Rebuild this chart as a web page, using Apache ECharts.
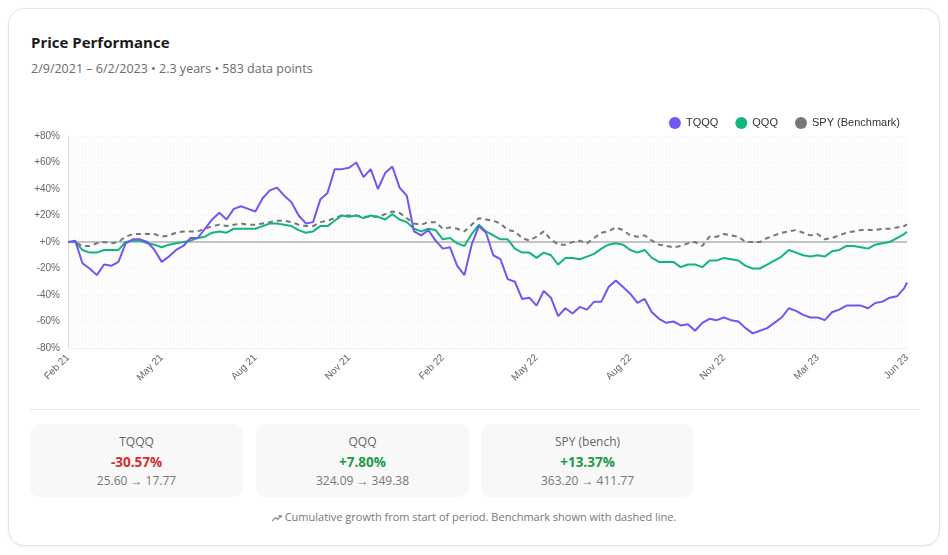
<!DOCTYPE html>
<html>
<head>
<meta charset="utf-8">
<title>Price Performance</title>
<script src="https://cdn.jsdelivr.net/npm/echarts@6/dist/echarts.min.js"></script>
<style>
  html, body { margin: 0; padding: 0; background: #fff; }
  body { width: 948px; height: 555px; position: relative; overflow: hidden; font-family: "Open Sans", "Noto Sans", sans-serif; }
  .card { position: absolute; left: 8px; top: 8px; width: 930px; height: 536px; border: 1px solid #e3e3e3; border-radius: 16px; box-shadow: 0 1px 3px rgba(0, 0, 0, 0.06); background: #fff; }
  .title { position: absolute; left: 31px; top: 32px; font-size: 15px; font-weight: 700; color: #1b1b1b; }
  .sub { position: absolute; left: 31px; top: 60px; font-size: 12.5px; color: #6b6b6b; }
  #chart { position: absolute; left: 22px; top: 100px; width: 903px; height: 300px; }
  .divider { position: absolute; left: 30px; top: 409px; width: 889px; height: 1px; background: #e9e9e9; }
  .stat { position: absolute; top: 424px; width: 213px; height: 73px; background: #f8f8f8; border-radius: 10px; text-align: center; }
  .stat .name { position: absolute; left: 0; right: 0; top: 9px; font-size: 12px; color: #666; }
  .stat .pct { position: absolute; left: 0; right: 0; top: 29px; font-size: 13.5px; font-weight: 700; }
  .stat .px { position: absolute; left: 0; right: 0; top: 48px; font-size: 12px; color: #777; }
  .neg { color: #d12f2f; }
  .pos { color: #1e9a4c; }
  .note { position: absolute; left: 0; width: 948px; top: 509px; text-align: center; font-size: 11px; color: #777; }
  .note svg { vertical-align: -1px; margin-right: 3px; }
</style>
</head>
<body>
<div class="card"></div>
<div class="title">Price Performance</div>
<div class="sub">2/9/2021 – 6/2/2023 • 2.3 years • 583 data points</div>
<div id="chart"></div>
<div class="divider"></div>
<div class="stat" style="left:30px"><div class="name">TQQQ</div><div class="pct neg">-30.57%</div><div class="px">25.60 → 17.77</div></div>
<div class="stat" style="left:256px"><div class="name">QQQ</div><div class="pct pos">+7.80%</div><div class="px">324.09 → 349.38</div></div>
<div class="stat" style="left:481px"><div class="name">SPY (bench)</div><div class="pct pos">+13.37%</div><div class="px">363.20 → 411.77</div></div>
<div class="note"><svg width="10" height="8" viewBox="0 0 10 8"><polyline points="0,7 3.5,3.5 5.5,5.5 9,1.5" fill="none" stroke="#888" stroke-width="1.2"/><polyline points="6.5,1.5 9,1.5 9,4" fill="none" stroke="#888" stroke-width="1.2"/></svg>Cumulative growth from start of period. Benchmark shown with dashed line.</div>

<script>
// trading-day index of each x-axis label
const tickDays = [0, 65, 130, 195, 260, 325, 390, 455, 520, 582];
const tickLabels = ['Feb 21', 'May 21', 'Aug 21', 'Nov 21', 'Feb 22', 'May 22', 'Aug 22', 'Nov 22', 'Mar 23', 'Jun 23'];
const dayCount = 583;

const sampleDays = [
  0, 5, 10, 15, 20, 25, 30, 35, 40, 45, 50, 55, 60, 65, 70, 75, 80, 85, 90, 95,
  100, 105, 110, 115, 120, 125, 130, 135, 140, 145, 150, 155, 160, 165, 170, 175, 180, 185, 190, 195,
  200, 205, 210, 215, 220, 225, 230, 235, 240, 245, 250, 255, 260, 265, 270, 275, 280, 285, 290, 295,
  300, 305, 310, 315, 320, 325, 330, 335, 340, 345, 350, 355, 360, 365, 370, 375, 380, 385, 390, 395,
  400, 405, 410, 415, 420, 425, 430, 435, 440, 445, 450, 455, 460, 465, 470, 475, 480, 485, 490, 495,
  500, 505, 510, 515, 520, 525, 530, 535, 540, 545, 550, 555, 560, 565, 570, 575, 580, 582
];

// cumulative growth, %
const tqqq = [
  0, 1, -16, -20, -25, -17, -18, -15, -1, 2,
  2, 0, -6, -15, -11, -6, -3, 3, 3, 10,
  17, 22, 17, 25, 27, 25, 23, 33, 39, 41,
  35, 30, 20, 14, 15, 32, 37, 55, 55, 56,
  60, 49, 55, 40, 52, 57, 41, 35, 8, 5,
  9, 1, -5, -4, -18, -25, -2, 12, 7, -10,
  -13, -28, -30, -43, -42, -48, -37, -42, -56, -50,
  -54, -49, -51, -45, -45, -34, -29, -34, -39, -46,
  -43, -53, -58, -61, -60, -63, -62, -67, -61, -58,
  -59, -57, -59, -60, -65, -69, -67, -65, -61, -57,
  -50, -52, -55, -57, -57, -59, -53, -51, -48, -48,
  -48, -50, -46, -45, -42, -41, -35, -30.57
];
const qqq = [
  0, 0, -6, -8, -8, -6, -6, -6, 0, 1,
  1, -1, -2, -4, -2, -1, 0, 1, 3, 4,
  7, 8, 7, 10, 10, 10, 10, 12, 14, 14,
  13, 12, 9, 7, 8, 12, 12, 16, 20, 19,
  20, 18, 20, 19, 17, 21, 17, 15, 10, 8,
  10, 9, 2, 3, -1, -3, 6, 13, 8, 5,
  2, 2, -5, -8, -8, -12, -8, -10, -17, -12,
  -12, -13, -11, -9, -5, -2, -1, -2, -6, -8,
  -6, -12, -15, -15, -15, -19, -17, -17, -19, -14,
  -14, -12, -13, -14, -18, -20, -20, -17, -14, -11,
  -6, -8, -10, -11, -10, -11, -7, -6, -3, -3,
  -4, -5, -2, -1, 0, 3, 6, 7.80
];
const spy = [
  0, 0, -3, -3, -1, 0, -1, 0, 4, 6,
  6, 6, 6, 4, 5, 7, 8, 8, 8, 10,
  12, 13, 12, 13, 14, 13, 13, 14, 15, 16,
  16, 15, 13, 12, 12, 15, 16, 18, 20, 20,
  20, 19, 19, 19, 21, 23, 22, 18, 14, 13,
  15, 15, 10, 11, 10, 8, 13, 18, 17, 16,
  14, 9, 8, 3, 1, 4, 8, 2, -2, -2,
  0, 1, -1, 3, 7, 8, 11, 9, 5, 4,
  5, 1, -2, -3, -4, -3, -1, 0, -3, 4,
  4, 6, 5, 4, 0, 0, 0, 3, 5, 7,
  8, 9, 7, 5, 6, 2, 3, 5, 7, 8,
  9, 9, 9, 10, 10, 11, 12, 13.37
];
const zeroLine = [0, 0];

const days = Array.from({ length: dayCount }, (_, i) => String(i));
const pairs = (vals) => sampleDays.map((d, i) => [d, vals[i]]);

const chart = echarts.init(document.getElementById('chart'));
const axisFont = 'Liberation Sans, Arial, sans-serif';

chart.setOption({
  animation: false,
  grid: { left: 46, right: 18, top: 36, bottom: 52 },
  legend: {
    data: ['TQQQ', 'QQQ', 'SPY (Benchmark)'],
    right: 20,
    top: 12,
    icon: 'circle',
    itemWidth: 12,
    itemHeight: 12,
    itemGap: 17,
    itemStyle: { borderWidth: 0 },
    textStyle: { fontSize: 11, color: '#333', fontFamily: axisFont }
  },
  xAxis: {
    type: 'category',
    data: days,
    boundaryGap: false,
    axisLine: { lineStyle: { color: '#dcdcdc' } },
    axisTick: { show: false },
    axisLabel: {
      interval: (i) => tickDays.includes(i),
      formatter: (v) => tickLabels[tickDays.indexOf(Number(v))],
      rotate: 45,
      fontSize: 10,
      color: '#666',
      fontFamily: axisFont
    },
    splitLine: { show: true, interval: 0, lineStyle: { color: '#fbfbfb', width: 1 } }
  },
  yAxis: {
    type: 'value',
    min: -80,
    max: 80,
    interval: 20,
    axisLine: { show: true, lineStyle: { color: '#dcdcdc' } },
    axisTick: { show: false },
    axisLabel: {
      formatter: (v) => (v >= 0 ? '+' : '') + v + '%',
      fontSize: 10,
      color: '#666',
      fontFamily: axisFont
    },
    splitLine: { lineStyle: { color: '#f0f0f0' } }
  },
  series: [
    {
      name: 'zero',
      type: 'line',
      data: [[0, zeroLine[0]], [dayCount - 1, zeroLine[1]]],
      showSymbol: false,
      silent: true,
      z: 1,
      lineStyle: { color: '#c4c4c4', width: 2 }
    },
    {
      name: 'TQQQ',
      type: 'line',
      data: pairs(tqqq),
      showSymbol: false,
      z: 4,
      itemStyle: { color: '#7455f2' },
      lineStyle: { color: '#7455f2', width: 2 }
    },
    {
      name: 'QQQ',
      type: 'line',
      data: pairs(qqq),
      showSymbol: false,
      z: 3,
      itemStyle: { color: '#14b47f' },
      lineStyle: { color: '#14b47f', width: 2 }
    },
    {
      name: 'SPY (Benchmark)',
      type: 'line',
      data: pairs(spy),
      showSymbol: false,
      z: 2,
      itemStyle: { color: '#777777' },
      lineStyle: { color: '#777777', width: 2, type: [5, 4] }
    }
  ]
});
</script>
</body>
</html>
